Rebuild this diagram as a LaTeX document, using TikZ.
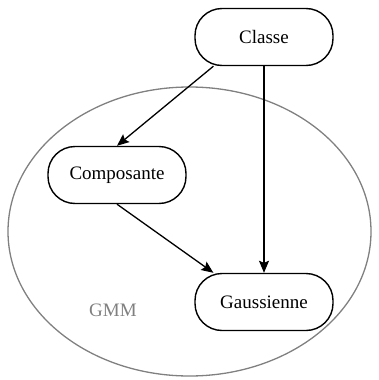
\documentclass[tikz,border=0pt]{standalone}
\usepackage{fontspec}
\setmainfont{Liberation Serif}
\usepackage{tikz}
\usetikzlibrary{shapes.geometric, arrows.meta}
\tikzstyle{state} = [rectangle, rounded corners=27pt, minimum width=138pt, minimum height=57pt, text centered, draw=black, line width=1.4pt, font=\fontsize{19}{22}\selectfont]
\tikzstyle{cluster} = [ellipse, draw=black!50, line width=1.3pt, minimum width=363pt, minimum height=289pt]
\tikzstyle{arrow} = [line width=1.3pt,->,>={Stealth[length=12pt,width=10pt,inset=2pt]}]

\begin{document}
\begin{tikzpicture}[node distance=265pt]
\useasboundingbox (0pt,0pt) rectangle (379pt,-380pt);
\node (gmm) [cluster] at (189.5pt,-231.5pt) {};
\node (gmmLabel) [text=black!50, font=\fontsize{19}{22}\selectfont] at (113pt,-310pt) {GMM};
\node (classe) [state] at (264pt,-37pt) {Classe};
\node (composante) [state] at (117pt,-175pt) {Composante};
\node (gaussienne) [state, below of=classe] {Gaussienne};

\draw [arrow] (classe.-150) -- (composante.north);
\draw [arrow] (classe) -- (gaussienne);
\draw [arrow] (composante.south) -- (gaussienne.150);
\end{tikzpicture}
\end{document}
